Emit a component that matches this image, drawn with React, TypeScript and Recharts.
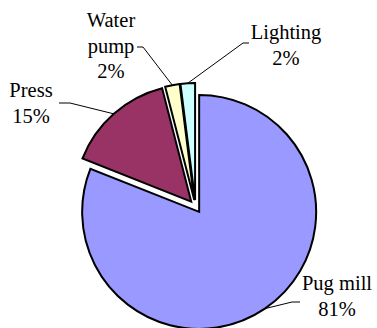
import { PieChart, Pie, Cell, Sector } from "recharts";

const names = ["Pug mill", "Press", "Water pump", "Lighting"];
const shares = [81, 15, 2, 2];
const colors = ["#9999ff", "#993366", "#ffffcc", "#ccffff"];
const labelRows = [["Pug mill"], ["Press"], ["Water", "pump"], ["Lighting"]];

const data = names.map((name, i) => ({ name, value: shares[i] }));

// where each label sits (text centre x, first baseline y) and where its leader line bends
const labelSpots = [
  { x: 337, y: 290, bx: 292, by: 302, ex: 300 },
  { x: 31, y: 97, bx: 70, by: 103, ex: 59 },
  { x: 111, y: 27, bx: 143, by: 47, ex: 137 },
  { x: 286, y: 39, bx: 243, by: 43, ex: 249 },
];

const RAD = Math.PI / 180;
const EXPLODE = 6.5;
const FONT = "Liberation Serif, Times New Roman, serif";

function ExplodedSector(props: any) {
  const { cx, cy, midAngle, innerRadius, outerRadius, startAngle, endAngle, fill } = props;
  const dx = EXPLODE * Math.cos(-midAngle * RAD);
  const dy = EXPLODE * Math.sin(-midAngle * RAD);
  return (
    <Sector
      cx={cx + dx}
      cy={cy + dy}
      innerRadius={innerRadius}
      outerRadius={outerRadius}
      startAngle={startAngle}
      endAngle={endAngle}
      fill={fill}
      stroke="#000"
      strokeWidth={2}
    />
  );
}

function SliceLabel(props: any) {
  const { cx, cy, midAngle, outerRadius, percent, index } = props;
  const spot = labelSpots[index];
  const r = outerRadius + EXPLODE;
  const ax = cx + r * Math.cos(-midAngle * RAD);
  const ay = cy + r * Math.sin(-midAngle * RAD);
  const rows = [...labelRows[index], `${Math.round(percent * 100)}%`];
  return (
    <g>
      <polyline
        points={`${ax},${ay} ${spot.bx},${spot.by} ${spot.ex},${spot.by}`}
        fill="none"
        stroke="#000"
        strokeWidth={1}
      />
      <text
        x={spot.x}
        y={spot.y}
        textAnchor="middle"
        style={{ fontFamily: FONT, fontSize: 20.5 }}
        fill="#000"
      >
        {rows.map((row, i) => (
          <tspan key={i} x={spot.x} dy={i === 0 ? 0 : 25.5}>
            {row}
          </tspan>
        ))}
      </text>
    </g>
  );
}

export default function App() {
  return (
    <div
      style={{
        position: "absolute",
        left: 0,
        top: 0,
        width: 377,
        height: 328,
        background: "#fff",
        fontFamily: FONT,
      }}
    >
      <PieChart width={377} height={328} margin={{ top: 0, right: 0, bottom: 0, left: 0 }}>
        <Pie
          data={data}
          dataKey="value"
          nameKey="name"
          cx={195.5}
          cy={206.5}
          outerRadius={117}
          startAngle={90}
          endAngle={-270}
          stroke="#000"
          strokeWidth={2}
          shape={ExplodedSector}
          label={SliceLabel}
          labelLine={false}
          isAnimationActive={false}
        >
          {data.map((d, i) => (
            <Cell key={d.name} fill={colors[i]} />
          ))}
        </Pie>
      </PieChart>
    </div>
  );
}
